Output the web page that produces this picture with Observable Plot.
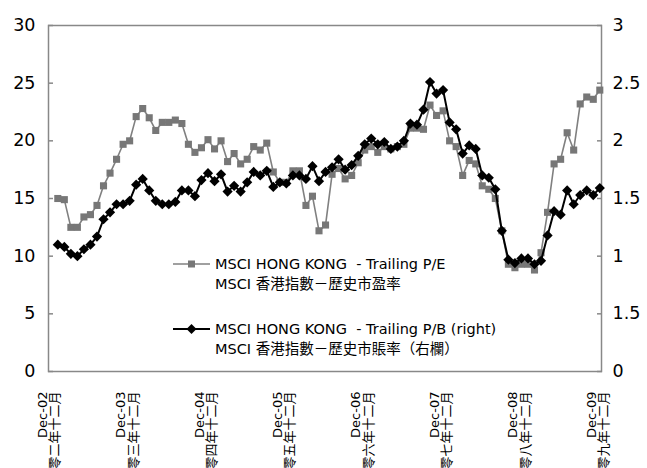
<!DOCTYPE html>
<html>
<head>
<meta charset="utf-8">
<script src="https://cdn.jsdelivr.net/npm/d3@7"></script>
<script src="https://cdn.jsdelivr.net/npm/@observablehq/plot@0.6"></script>
<style>
  html, body { margin: 0; padding: 0; background: #fff; }
  #wrap { position: relative; width: 647px; height: 468px; overflow: hidden; font-family: "DejaVu Sans", "Noto Sans CJK TC", sans-serif; }
  .leg { position: absolute; font-size: 14.5px; line-height: 20px; color: #000; white-space: pre; }
  .legsym { position: absolute; }
</style>
</head>
<body>
<div id="wrap"></div>
<script>
// ---- data (monthly, Jan-03 .. Dec-09) ----
const peValues = [15.0, 14.9, 12.5, 12.5, 13.4, 13.6, 14.4, 16.1, 17.2, 18.4, 19.7, 20.0,
  22.1, 22.8, 22.0, 20.9, 21.6, 21.6, 21.8, 21.5, 19.7, 19.0, 19.4, 20.1,
  19.3, 20.0, 18.2, 18.9, 18.0, 18.4, 19.5, 19.2, 19.8, 17.3, 16.4, 16.4,
  17.4, 17.4, 14.4, 15.2, 12.2, 12.7, 17.1, 17.6, 16.7, 17.0, 18.1, 19.2,
  19.5, 19.0, 19.5, 19.3, 19.5, 19.7, 21.1, 21.1, 21.0, 23.1, 22.2, 22.6,
  20.0, 19.5, 17.0, 18.3, 18.0, 16.1, 15.8, 15.0, 12.2, 9.3, 9.0, 9.3,
  9.3, 8.8, 10.3, 13.8, 18.0, 18.4, 20.7, 19.2, 23.2, 23.8, 23.6, 24.4];
const pbValues = [1.10, 1.08, 1.02, 1.00, 1.06, 1.10, 1.17, 1.32, 1.38, 1.45, 1.45, 1.48,
  1.62, 1.67, 1.57, 1.48, 1.45, 1.45, 1.47, 1.57, 1.57, 1.52, 1.66, 1.72,
  1.65, 1.71, 1.56, 1.61, 1.56, 1.64, 1.73, 1.70, 1.74, 1.60, 1.64, 1.63,
  1.70, 1.70, 1.67, 1.78, 1.65, 1.73, 1.77, 1.84, 1.75, 1.79, 1.87, 1.97,
  2.02, 1.97, 1.99, 1.93, 1.95, 2.00, 2.15, 2.14, 2.27, 2.51, 2.41, 2.44,
  2.16, 2.10, 1.89, 1.96, 1.93, 1.70, 1.68, 1.58, 1.22, 0.97, 0.94, 0.98,
  0.98, 0.93, 0.96, 1.18, 1.39, 1.36, 1.57, 1.45, 1.53, 1.57, 1.53, 1.59];
const tickLabels = ["Dec-02\n零二年十二月", "Dec-03\n零三年十二月", "Dec-04\n零四年十二月", "Dec-05\n零五年十二月",
  "Dec-06\n零六年十二月", "Dec-07\n零七年十二月", "Dec-08\n零八年十二月", "Dec-09\n零九年十二月"];
const leftTicks = [0, 5, 10, 15, 20, 25, 30];
const rightTickLabels = ["0", "1.5", "1", "1.5", "2", "2.5", "3"]; // as printed in the source chart
const seriesNames = [
  ["MSCI HONG KONG  - Trailing P/E", "MSCI 香港指數－歷史市盈率"],
  ["MSCI HONG KONG  - Trailing P/B (right)", "MSCI 香港指數－歷史市賬率（右欄）"]
];

// ---- build tables ----
const pe = peValues.map((v, i) => ({i, v}));
const pb = pbValues.map((v, i) => ({i, v: v * 10})); // right axis is 1/10 of left
const tickPos = tickLabels.map((_, k) => k * 12 - 1); // December positions

const GRAY = "#808080";
const chart = Plot.plot({
  width: 647, height: 468,
  marginLeft: 48, marginRight: 46, marginTop: 25, marginBottom: 97,
  style: {fontFamily: "'DejaVu Sans', 'Noto Sans CJK TC', sans-serif", background: "#fff", color: "#000", overflow: "visible"},
  x: {domain: [-1.424, 83.26], axis: null},
  y: {domain: [0, 30], axis: null},
  marks: [
    Plot.frame({stroke: "#888", strokeWidth: 1.5}),
    Plot.axisY({anchor: "left", label: null, ticks: leftTicks, tickSize: -5, tickPadding: 18, fontSize: 17.5, stroke: "#888", strokeWidth: 1.5, fill: "#000"}),
    Plot.axisY({anchor: "right", label: null, ticks: leftTicks, tickFormat: d => rightTickLabels[leftTicks.indexOf(d)], tickSize: -5, tickPadding: 16, fontSize: 17.5, stroke: "#888", strokeWidth: 1.5, fill: "#000"}),
    Plot.text(tickLabels, {x: (d, i) => tickPos[i], text: d => d, frameAnchor: "bottom", rotate: -90, textAnchor: "end", lineAnchor: "middle", dy: 20, dx: -2, fontSize: 13, lineHeight: 0.95, fill: "#000"}),
    Plot.line(pe, {x: "i", y: "v", stroke: GRAY, strokeWidth: 1.6}),
    Plot.dot(pe, {x: "i", y: "v", symbol: "square", r: 4, fill: "#777", stroke: "none"}),
    Plot.line(pb, {x: "i", y: "v", stroke: "#000", strokeWidth: 2}),
    Plot.dot(pb, {x: "i", y: "v", symbol: "diamond2", r: 4.6, fill: "#000", stroke: "none"})
  ]
});
const wrap = document.getElementById("wrap");
wrap.appendChild(chart);

// ---- legend (inside plot area) ----
function legendEntry(top, names, kind) {
  const s = document.createElementNS("http://www.w3.org/2000/svg", "svg");
  s.setAttribute("width", 40); s.setAttribute("height", 14);
  s.setAttribute("class", "legsym");
  s.style.left = "172px"; s.style.top = (top + 10 - 7) + "px";
  if (kind === "pe") {
    s.innerHTML = `<line x1="1" x2="38" y1="7" y2="7" stroke="${GRAY}" stroke-width="1.6"/><rect x="16" y="3.5" width="7" height="7" fill="#777"/>`;
  } else {
    s.innerHTML = `<line x1="1" x2="38" y1="7" y2="7" stroke="#000" stroke-width="2"/><path d="M19.5,2 L24.5,7 L19.5,12 L14.5,7 Z" fill="#000"/>`;
  }
  wrap.appendChild(s);
  const d = document.createElement("div");
  d.className = "leg";
  d.style.left = "215px"; d.style.top = top + "px";
  d.innerHTML = names.map(n => `<div>${n}</div>`).join("");
  wrap.appendChild(d);
}
legendEntry(254, seriesNames[0], "pe");
legendEntry(319, seriesNames[1], "pb");
</script>
</body>
</html>
